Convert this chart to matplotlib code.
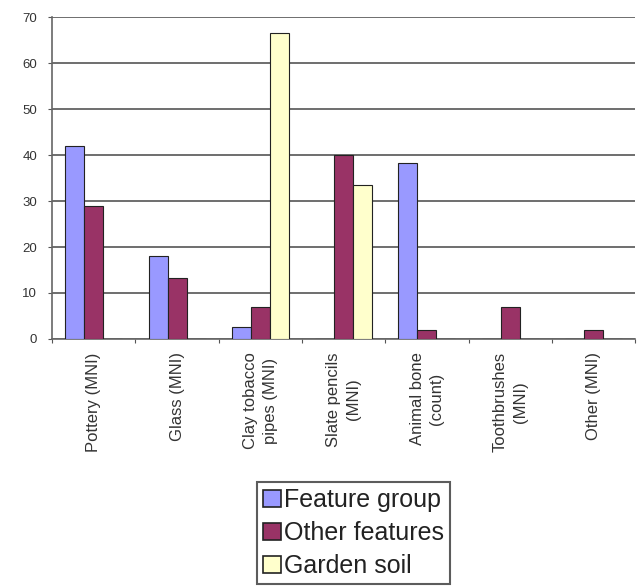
import numpy as np
from matplotlib import pyplot as plt
from matplotlib.patches import Patch

# Finds by context (MNI / counts)
categories = ["Pottery (MNI)", "Glass (MNI)", "Clay tobacco\npipes (MNI)",
              "Slate pencils\n(MNI)", "Animal bone\n(count)",
              "Toothbrushes\n(MNI)", "Other (MNI)"]
feature_group = [42, 18, 2.5, 0, 38.3, 0, 0]
other_features = [29, 13.3, 7, 40, 2, 7, 2]
garden_soil = [0, 0, 66.5, 33.5, 0, 0, 0]
series_names = ["Feature group", "Other features", "Garden soil"]
colors = ["#9999FF", "#993366", "#FFFFCC"]

plt.rcParams['font.family'] = ['Liberation Sans', 'DejaVu Sans']

fig = plt.figure(figsize=(6.37, 5.87), dpi=100)
ax = fig.add_axes([0.082, 0.4225, 0.915, 0.5485])

x = np.arange(len(categories))
w = 0.228
for k, vals in enumerate([feature_group, other_features, garden_soil]):
    ax.bar(x + (k - 1) * w, vals, w, color=colors[k], edgecolor='#222222',
           linewidth=0.8, zorder=3)

ax.set_xlim(-0.5, len(categories) - 0.5)
ax.set_ylim(0, 70)
ax.set_yticks(np.arange(0, 71, 10))
ax.grid(axis='y', color='#555555', linewidth=1.2, zorder=0)

# category ticks sit between groups, labels centred on groups
ax.set_xticks(np.arange(-0.5, len(categories), 1.0))
ax.set_xticklabels([])
ax.set_xticks(x, minor=True)
ax.set_xticklabels(categories, minor=True, rotation=90, va='top', ha='center',
                   fontsize=12, color='#333333', linespacing=1.4)
ax.tick_params(axis='x', which='minor', length=0, pad=9.5)
ax.tick_params(axis='x', which='major', length=3, color='#555555', direction='out')
ax.tick_params(axis='y', length=3, color='#555555', labelsize=9.5, labelcolor='#333333', pad=8)

for s in ['top', 'right']:
    ax.spines[s].set_visible(False)
for s in ['left', 'bottom']:
    ax.spines[s].set_color('#666666')
    ax.spines[s].set_linewidth(1.2)

handles = [Patch(facecolor=c, edgecolor='#222222', linewidth=1.2) for c in colors]
leg = fig.legend(handles, series_names, loc='upper left',
                 bbox_to_anchor=(0.403, 0.179), bbox_transform=fig.transFigure,
                 fontsize=18, frameon=True, fancybox=False, handlelength=0.72,
                 handleheight=0.72, handletextpad=0.12, labelspacing=0.36,
                 borderpad=0.25, borderaxespad=0)
for t in leg.get_texts():
    t.set_color('#222222')
leg.get_frame().set_edgecolor('#333333')
leg.get_frame().set_linewidth(1.5)

fig.savefig("out.png", dpi=100)
